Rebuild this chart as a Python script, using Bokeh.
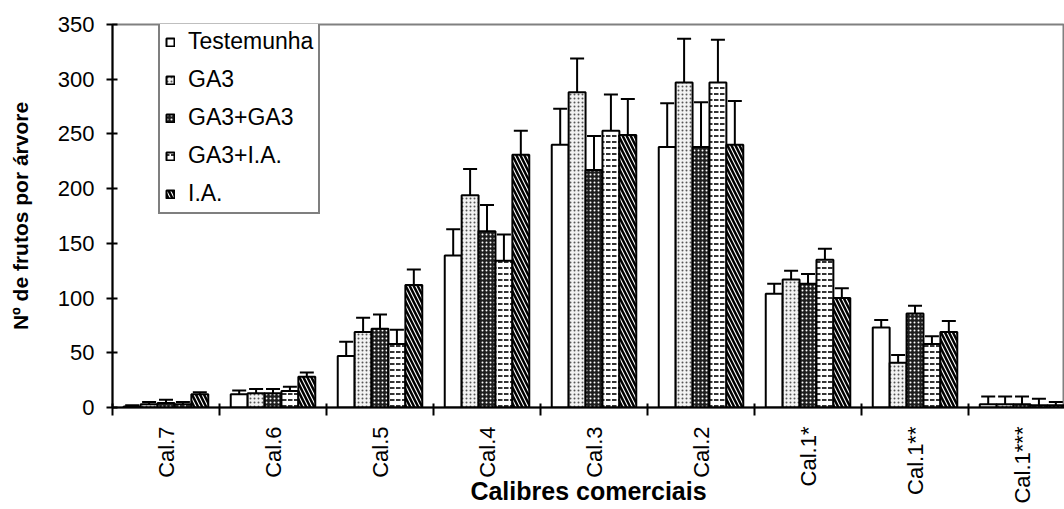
from math import pi
from bokeh.plotting import figure
from bokeh.models import (Range1d, FixedTicker, Whisker, TeeHead, ColumnDataSource)
from bokeh.embed import file_html
from bokeh.resources import INLINE

# ---------------- data ----------------
categories = ["Cal.7", "Cal.6", "Cal.5", "Cal.4", "Cal.3", "Cal.2",
              "Cal.1*", "Cal.1**", "Cal.1***"]
series_names = ["Testemunha", "GA3", "GA3+GA3", "GA3+I.A.", "I.A."]

testemunha = [1, 12, 47, 139, 240, 238, 104, 73, 3]
testemunha_err = [1, 3.5, 13, 24, 33, 40, 9, 7, 7]
ga3 = [3, 13, 69, 194, 288, 297, 117, 41, 3]
ga3_err = [2, 4, 13, 24, 31, 40, 8, 7, 7]
ga3_ga3 = [4, 13, 72, 161, 217, 238, 113, 86, 3]
ga3_ga3_err = [3, 4, 13, 24, 31, 41, 9, 7, 7]
ga3_ia = [3, 15, 58, 134, 253, 297, 135, 58, 2]
ga3_ia_err = [2, 4, 13, 24, 33, 39, 10, 7, 6]
ia = [12, 28, 112, 231, 249, 240, 100, 69, 2]
ia_err = [2, 4, 14, 22, 33, 40, 9, 10, 3]

y_ticks = [0, 50, 100, 150, 200, 250, 300, 350]

values = [testemunha, ga3, ga3_ga3, ga3_ia, ia]
errors = [testemunha_err, ga3_err, ga3_ga3_err, ga3_ia_err, ia_err]

styles = [
    dict(fill_color="white"),
    dict(fill_color="#f2f2f2", hatch_pattern="dot", hatch_color="#555555",
         hatch_scale=4, hatch_weight=1),
    dict(fill_color="#1e1e1e", hatch_pattern="dot", hatch_color="white",
         hatch_scale=4, hatch_weight=1),
    dict(fill_color="white", hatch_pattern="horizontal_dash", hatch_color="#333333",
         hatch_scale=6, hatch_weight=2),
    dict(fill_color="white", hatch_pattern="left_diagonal_line", hatch_color="black",
         hatch_scale=8, hatch_weight=2.5),
]

FONT = "Liberation Sans"
ncat = len(categories)

p = figure(width=1064, height=509, output_backend="svg", toolbar_location=None,
           x_range=Range1d(0, 8.897), y_range=Range1d(0, 350),
           min_border_left=112, min_border_top=24, min_border_right=0,
           min_border_bottom=102)
p.outline_line_color = "#808080"
p.outline_line_width = 2
p.background_fill_color = "white"
p.border_fill_color = "white"
p.grid.visible = False

bw = 0.158
for k, (name, vals, errs, st) in enumerate(zip(series_names, values, errors, styles)):
    xs = [i + 0.5 + (k - 2) * bw for i in range(ncat)]
    src = ColumnDataSource(dict(
        x=xs, top=vals,
        upper=[v + e for v, e in zip(vals, errs)],
        lower=[max(0, v - e) for v, e in zip(vals, errs)],
    ))
    p.vbar(x="x", top="top", bottom=0, width=bw, source=src,
           line_color="black", line_width=2, legend_label=name, **st)
    p.add_layout(Whisker(source=src, base="x", upper="upper", lower="lower",
                         line_color="black", line_width=2,
                         upper_head=TeeHead(size=14, line_width=2, line_color="black"),
                         lower_head=TeeHead(size=14, line_width=2, line_color="black")))

# y axis
yax = p.yaxis[0]
yax.ticker = FixedTicker(ticks=y_ticks)
yax.major_tick_in = 5
yax.major_tick_out = 6
yax.minor_tick_line_color = None
yax.axis_line_width = 2
yax.major_tick_line_width = 2
yax.major_label_text_font = FONT
yax.major_label_text_font_size = "22px"
yax.major_label_text_color = "black"
yax.major_label_standoff = 12
yax.axis_label = "Nº de frutos por árvore"
yax.axis_label_text_font = FONT
yax.axis_label_text_font_style = "bold"
yax.axis_label_text_font_size = "21px"
yax.axis_label_text_color = "black"
yax.axis_label_standoff = 23

# x axis: labels at category centres, tick marks at category boundaries
xax = p.xaxis[0]
xax.ticker = FixedTicker(ticks=[i + 0.5 for i in range(ncat)],
                         minor_ticks=list(range(ncat + 1)))
xax.major_label_overrides = {i + 0.5: c for i, c in enumerate(categories)}
xax.major_tick_line_color = None
xax.major_tick_in = 0
xax.major_tick_out = 0
xax.minor_tick_line_color = "black"
xax.minor_tick_line_width = 2
xax.minor_tick_in = 4
xax.minor_tick_out = 8
xax.axis_line_width = 2
xax.major_label_orientation = pi / 2
xax.major_label_standoff = 11
xax.major_label_text_font = FONT
xax.major_label_text_font_size = "22px"
xax.major_label_text_color = "black"
xax.axis_label = "Calibres comerciais"
xax.axis_label_text_font = FONT
xax.axis_label_text_font_style = "bold"
xax.axis_label_text_font_size = "25px"
xax.axis_label_text_color = "black"
xax.axis_label_standoff = -30

leg = p.legend[0]
leg.location = (46, 193)
leg.margin = 0
leg.label_text_font = FONT
leg.label_text_font_size = "23px"
leg.label_text_color = "black"
leg.glyph_width = 10
leg.glyph_height = 10
leg.label_standoff = 13
leg.padding = 5
leg.spacing = 11
leg.label_height = 27
leg.border_line_color = "black"
leg.border_line_width = 2
leg.background_fill_color = "white"
leg.background_fill_alpha = 1

open("out.html", "w").write(file_html(p, INLINE))
